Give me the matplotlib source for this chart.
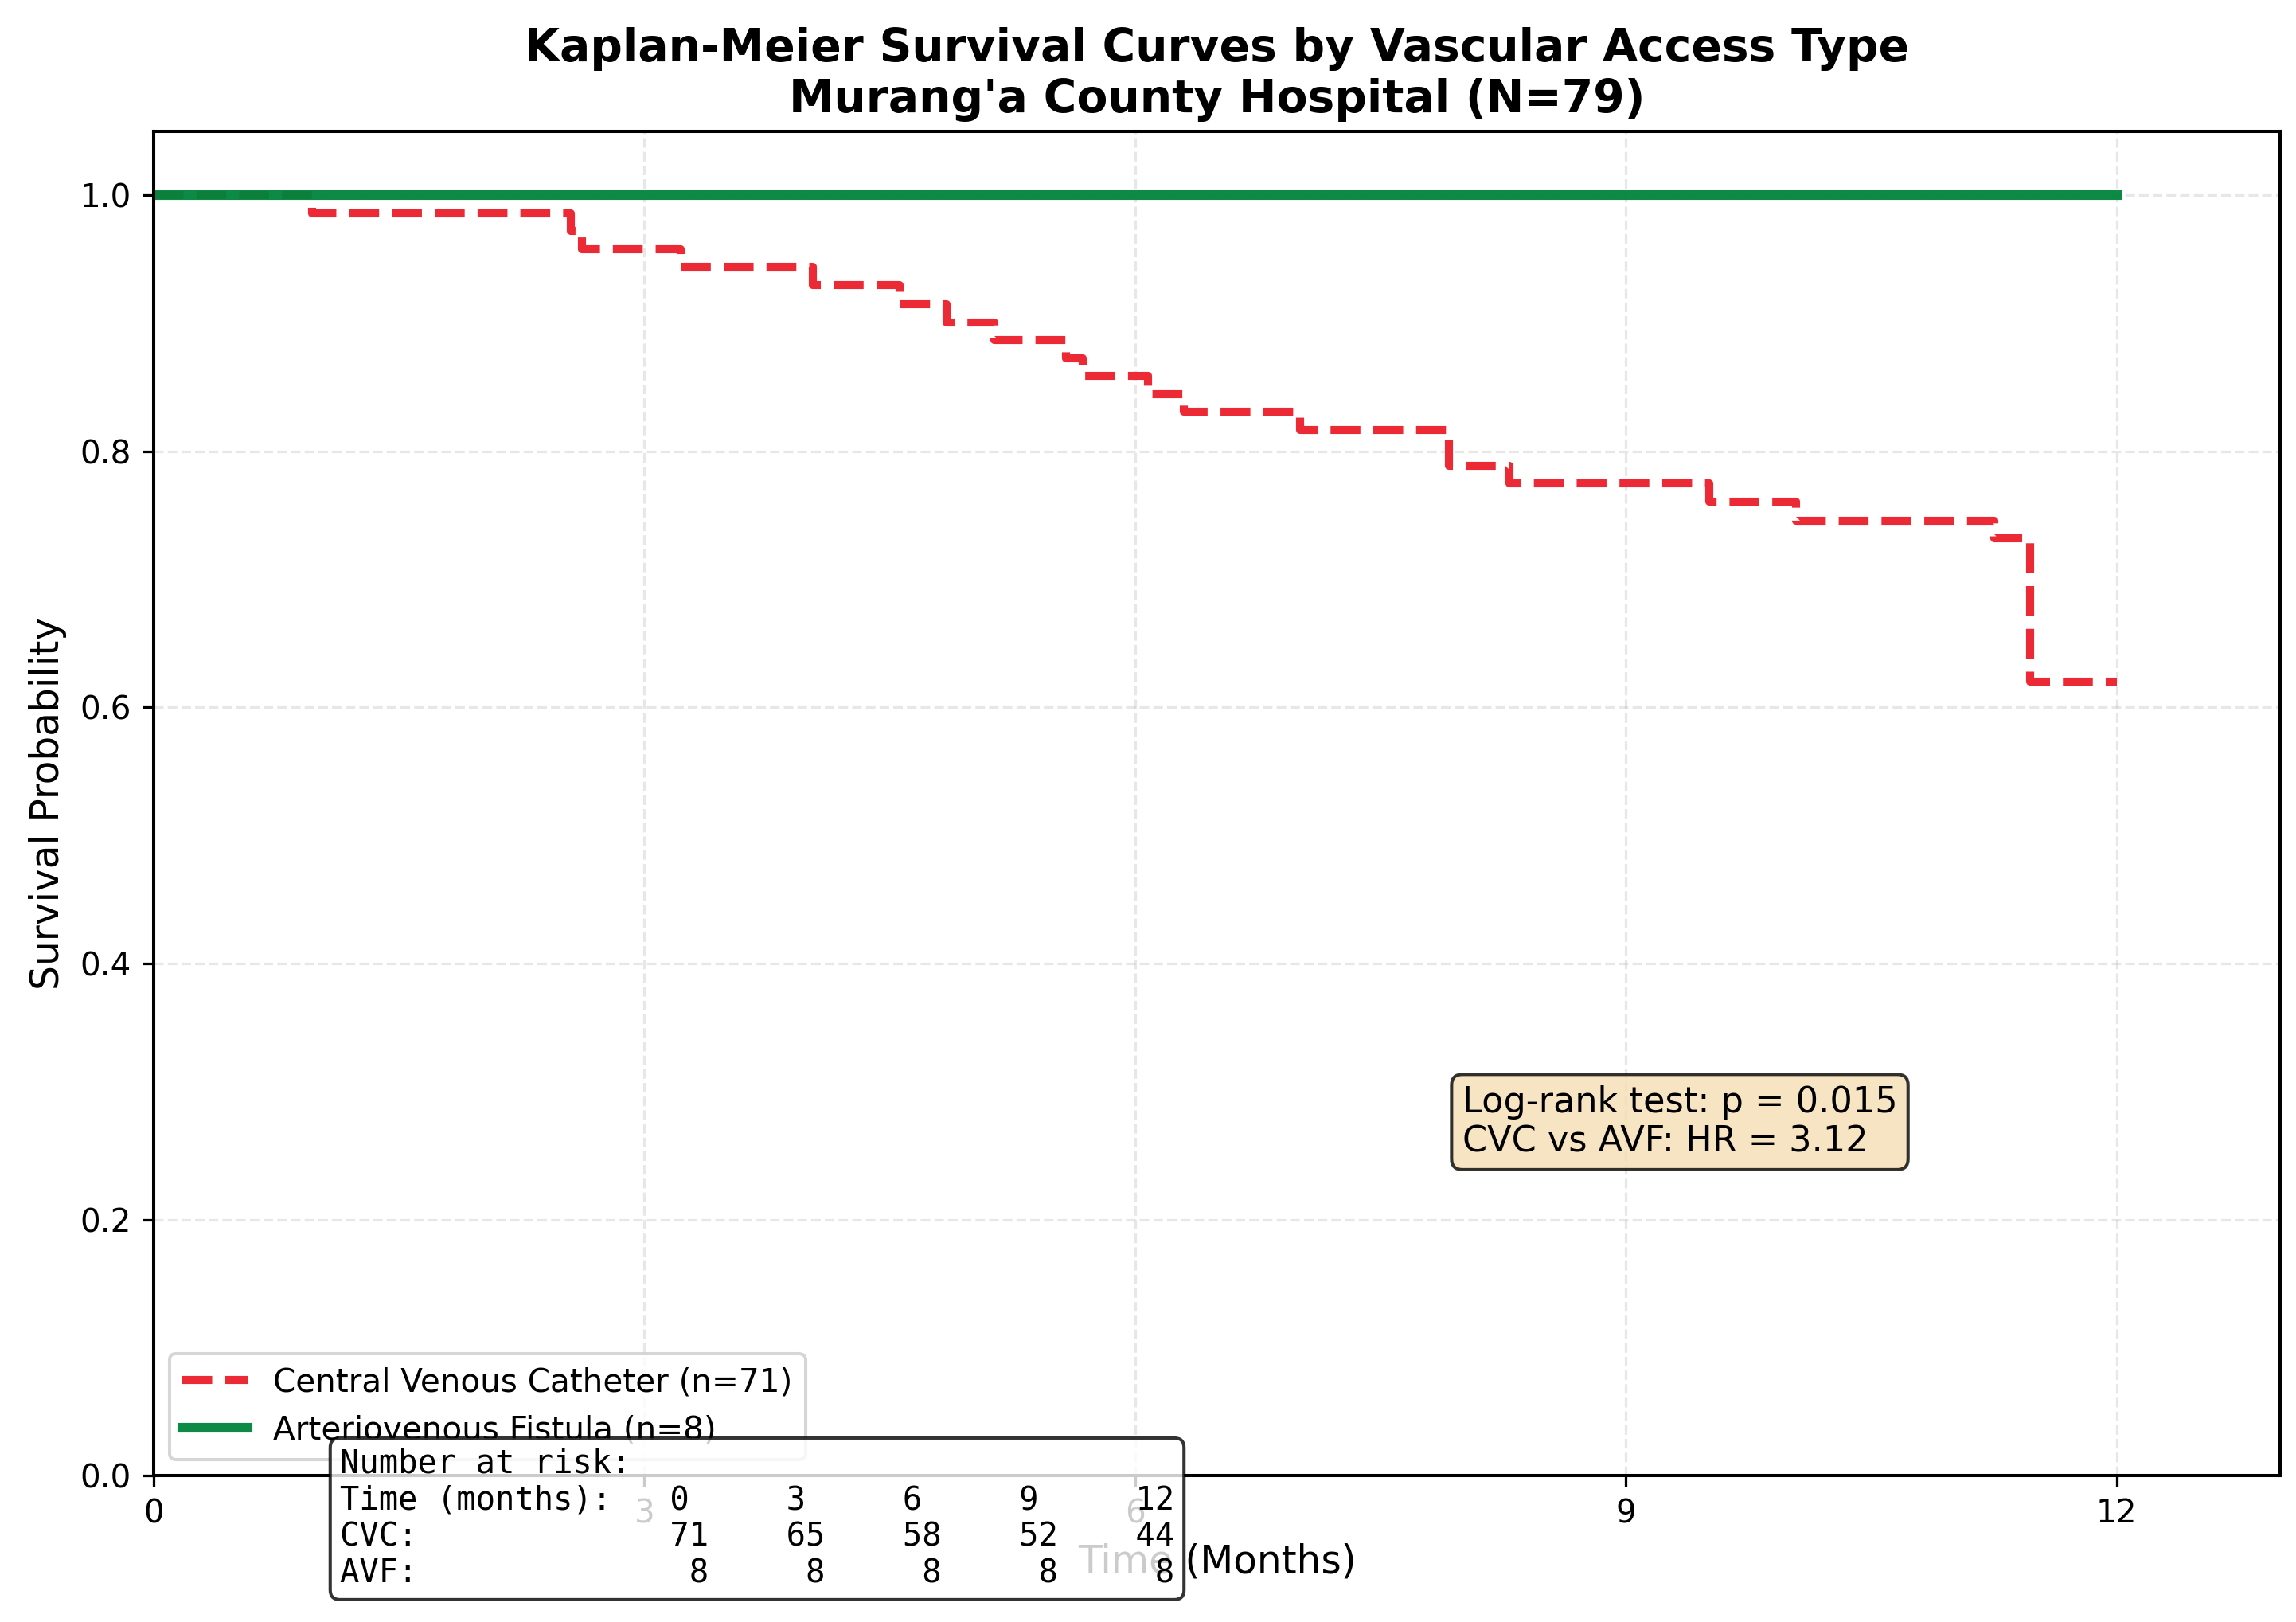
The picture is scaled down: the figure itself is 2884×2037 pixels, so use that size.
import matplotlib
matplotlib.use("Agg")
import matplotlib.pyplot as plt

# survival steps (months, probability)
cvc_times = [0, 0.97, 2.55, 2.62, 3.22, 4.03, 4.56, 4.85, 5.14, 5.58, 5.68,
             6.08, 6.30, 7.01, 7.92, 8.29, 9.51, 10.04, 11.25, 11.47, 12.0]
cvc_surv = [1.0, 0.986, 0.972, 0.958, 0.944, 0.930, 0.915, 0.901, 0.887, 0.873, 0.859,
            0.845, 0.831, 0.817, 0.789, 0.775, 0.761, 0.746, 0.732, 0.620, 0.620]
avf_times = [0, 12.0]
avf_surv = [1.0, 1.0]

risk_times = [0, 3, 6, 9, 12]
risk_cvc = [71, 65, 58, 52, 44]
risk_avf = [8, 8, 8, 8, 8]

CVC_COLOR = "#EB2A35"
AVF_COLOR = "#00853C"

DPI = 292
fig, ax = plt.subplots(figsize=(2884 / DPI, 2037 / DPI), dpi=DPI)
fig.subplots_adjust(left=0.0669, right=0.9931, bottom=0.0903, top=0.919)

ax.step(cvc_times, cvc_surv, where="post", color=CVC_COLOR, linestyle="--",
        linewidth=2.5, label="Central Venous Catheter (n=71)")
ax.step(avf_times, avf_surv, where="post", color=AVF_COLOR, linestyle="-",
        linewidth=3, alpha=0.95, label="Arteriovenous Fistula (n=8)")

ax.set_xlim(0, 13)
ax.set_ylim(0, 1.05)
ax.set_xticks(risk_times)
ax.set_yticks([0.0, 0.2, 0.4, 0.6, 0.8, 1.0])
ax.tick_params(labelsize=10)
ax.set_xlabel("Time (Months)", fontsize=12)
ax.set_ylabel("Survival Probability", fontsize=12)
ax.set_title("Kaplan-Meier Survival Curves by Vascular Access Type\nMurang'a County Hospital (N=79)",
             fontsize=14, fontweight="bold")
ax.grid(True, alpha=0.3, linestyle="--")
for s in ax.spines.values():
    s.set_linewidth(1.0)

ax.legend(loc="lower left", fontsize=10)

ax.text(8.0, 0.305, "Log-rank test: p = 0.015\nCVC vs AVF: HR = 3.12",
        fontsize=11, ha="left", va="top",
        bbox=dict(boxstyle="round", facecolor="wheat", alpha=0.8))

# number at risk table
time_row = "Time (months):   " + "".join(f"{t:<6}" for t in risk_times).rstrip()
cvc_row = "CVC:         " + "".join(f"{n:>6}" for n in risk_cvc)
avf_row = "AVF:         " + "".join(f"{n:>6}" for n in risk_avf)
risk_text = "Number at risk:\n" + time_row + "\n" + cvc_row + "\n" + avf_row
ax.text(0.0876, 0.0207, risk_text, transform=ax.transAxes, fontsize=10,
        family="DejaVu Sans Mono", ha="left", va="top", zorder=6,
        bbox=dict(boxstyle="round", facecolor="white", alpha=0.8))

fig.savefig("out.png", dpi=DPI)
